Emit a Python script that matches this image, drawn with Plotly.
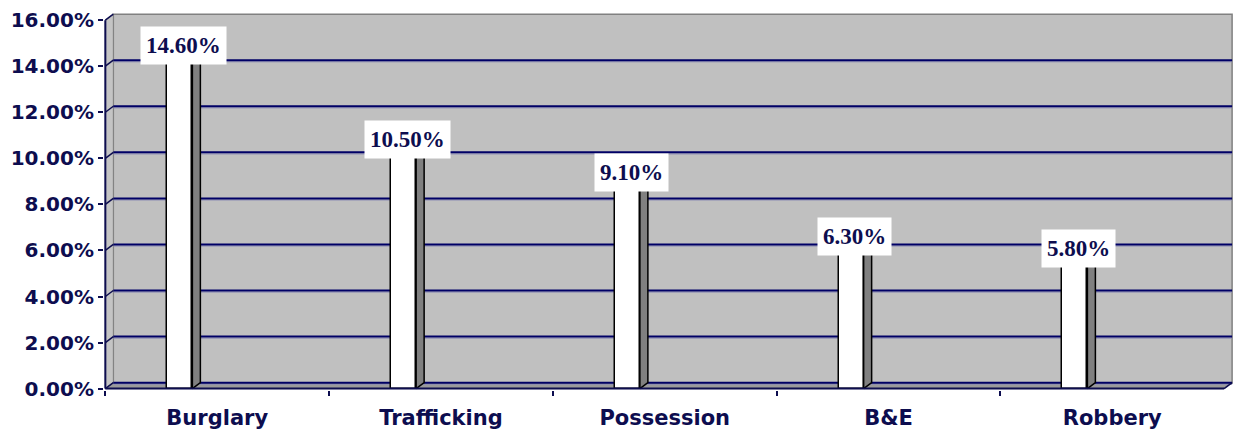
import plotly.graph_objects as go

categories = ["Burglary", "Trafficking", "Possession", "B&E", "Robbery"]
values = [14.6, 10.5, 9.1, 6.3, 5.8]
value_labels = ["14.60%", "10.50%", "9.10%", "6.30%", "5.80%"]
y_ticks = [0, 2, 4, 6, 8, 10, 12, 14, 16]
y_tick_labels = ["0.00%", "2.00%", "4.00%", "6.00%", "8.00%", "10.00%", "12.00%", "14.00%", "16.00%"]

NAVY = "#0d0d4f"
GRID = "#000066"
DX = 8 / 224.0      # depth offset in x data units
DY = 6 / 23.06      # depth offset in y data units
BAR_OFF = -0.223
BAR_W = 0.112
N = len(categories)
XMAX = N + DX

centers = [i + 0.5 for i in range(N)]

fig = go.Figure()

shapes = []
# back wall
shapes.append(dict(type="rect", xref="x", yref="y", x0=DX, x1=XMAX, y0=DY, y1=16 + DY,
                   fillcolor="#c0c0c0", line=dict(color="#808080", width=1.5), layer="below"))
# left side wall
shapes.append(dict(type="path", xref="x", yref="y",
                   path=f"M 0 0 L 0 16 L {DX} {16+DY} L {DX} {DY} Z",
                   fillcolor="#c4c4c4", line=dict(color="#808080", width=1), layer="below"))
# floor
shapes.append(dict(type="path", xref="x", yref="y",
                   path=f"M 0 0 L {N} 0 L {XMAX} {DY} L {DX} {DY} Z",
                   fillcolor="#9a9a9a", line=dict(color="#808080", width=1), layer="below"))
# gridlines on back wall + diagonal ticks
for v in y_ticks:
    if v < 16:
        shapes.append(dict(type="line", xref="x", yref="y", x0=DX, x1=XMAX, y0=v + DY - 0.07, y1=v + DY - 0.07,
                           line=dict(color="#8c8cb4", width=1), layer="below"))
        shapes.append(dict(type="line", xref="x", yref="y", x0=DX, x1=XMAX, y0=v + DY, y1=v + DY,
                           line=dict(color=GRID, width=2), layer="below"))
    shapes.append(dict(type="line", xref="x", yref="y", x0=0, x1=DX, y0=v, y1=v + DY,
                       line=dict(color=NAVY, width=1.5), layer="below"))
# axis lines
shapes.append(dict(type="line", xref="x", yref="y", x0=0, x1=0, y0=0, y1=16,
                   line=dict(color=NAVY, width=2)))
shapes.append(dict(type="line", xref="x", yref="y", x0=0, x1=N, y0=0, y1=0,
                   line=dict(color=NAVY, width=2)))
shapes.append(dict(type="line", xref="x", yref="y", x0=N, x1=XMAX, y0=0, y1=DY,
                   line=dict(color=NAVY, width=1.5)))

# bar front faces
fig.add_trace(go.Bar(x=centers, y=values, width=BAR_W, offset=BAR_OFF,
                     marker=dict(color="white", line=dict(color="black", width=1.5)),
                     hoverinfo="skip", showlegend=False))

# side and top faces
sx, sy, tx, ty = [], [], [], []
for c, v in zip(centers, values):
    l = c + BAR_OFF
    r = l + BAR_W
    sx += [r, r, r + DX, r + DX, r, None]
    sy += [0, v, v + DY, DY, 0, None]
    tx += [l, r, r + DX, l + DX, l, None]
    ty += [v, v, v + DY, v + DY, v, None]
fig.add_trace(go.Scatter(x=sx, y=sy, mode="lines", fill="toself", fillcolor="#808080",
                         line=dict(color="black", width=1.5), hoverinfo="skip", showlegend=False))
fig.add_trace(go.Scatter(x=tx, y=ty, mode="lines", fill="toself", fillcolor="#e6e6e6",
                         line=dict(color="black", width=1), hoverinfo="skip", showlegend=False))

annotations = []
for c, v, t in zip(centers, values, value_labels):
    annotations.append(dict(x=c - 0.15, y=v, xref="x", yref="y", text=t, showarrow=False,
                            yanchor="middle", xanchor="center", yshift=7,
                            bgcolor="white", borderpad=5, height=27,
                            font=dict(family="Liberation Serif", size=23, color=NAVY, weight="bold")))

fig.update_layout(
    width=1233, height=437,
    margin=dict(l=104, r=0, t=13, b=47),
    paper_bgcolor="white", plot_bgcolor="white",
    shapes=shapes, annotations=annotations,
    xaxis=dict(range=[-0.006, XMAX + 0.004], tickvals=centers, ticktext=categories,
               ticks="", showgrid=False, zeroline=False, showline=False,
               ticklabelstandoff=13,
               minor=dict(tickvals=[0, 1, 2, 3, 4], ticks="outside", ticklen=5, tickwidth=1.5,
                          tickcolor=NAVY, showgrid=False),
               tickfont=dict(family="DejaVu Sans", size=21, color=NAVY, weight="bold")),
    yaxis=dict(range=[-0.06, 16.31], tickvals=y_ticks, ticktext=y_tick_labels,
               ticks="outside", ticklen=5, tickwidth=2, tickcolor=NAVY,
               showgrid=False, zeroline=False, showline=False,
               tickfont=dict(family="DejaVu Sans", size=20, color=NAVY, weight="bold")),
    bargap=0,
)

fig.write_html("out.html", config={"displayModeBar": False},
               post_script="document.body.style.margin='0';document.body.style.overflow='hidden';")
